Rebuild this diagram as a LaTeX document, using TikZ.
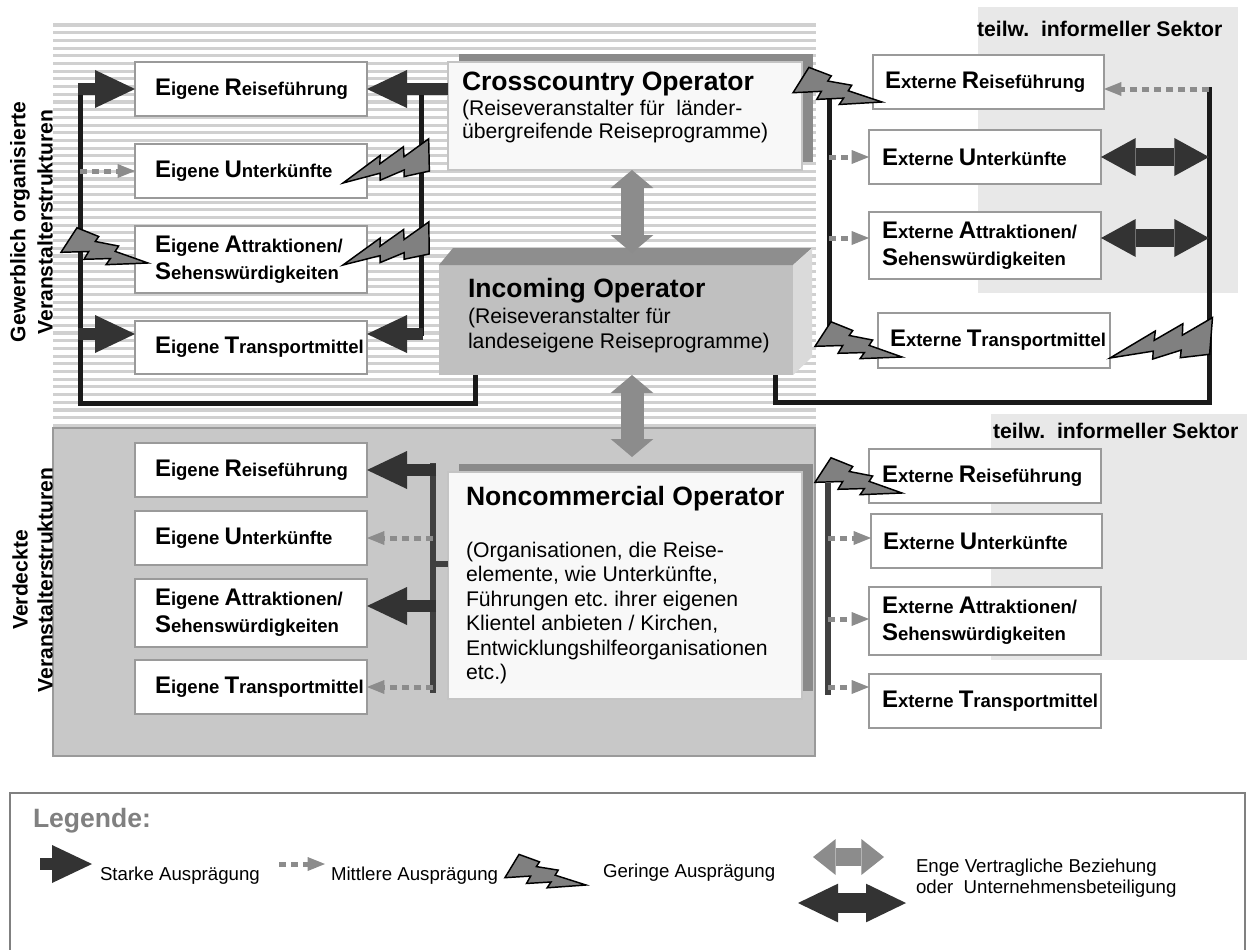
\documentclass[tikz,border=0pt]{standalone}
\usepackage{fontspec}
\setmainfont{Liberation Sans}
\usetikzlibrary{arrows.meta,calc,shadows}
\frenchspacing

\definecolor{darkarrow}{HTML}{333333}
\definecolor{midgray}{HTML}{8C8C8C}
\definecolor{boltgray}{HTML}{808080}
\definecolor{boxline}{HTML}{9A9A9A}
\definecolor{opline}{HTML}{C4C4C4}
\definecolor{stripegray}{HTML}{D0D0D0}
\definecolor{panelgray}{HTML}{C8C8C8}
\definecolor{informal}{HTML}{E8E8E8}
\definecolor{shadowgray}{HTML}{8A8A8A}
\definecolor{paper}{HTML}{F8F8F8}
\definecolor{incfront}{HTML}{C0C0C0}
\definecolor{inctop}{HTML}{8E8E8E}
\definecolor{incside}{HTML}{DADADA}
\definecolor{busblack}{HTML}{1A1A1A}
\definecolor{busgray}{HTML}{404040}
\definecolor{leggray}{HTML}{808080}

% fonts
\newcommand\capL[1]{{\fontsize{18}{21}\selectfont #1}}
\newcommand\itemfont{\fontsize{13.9}{21}\selectfont\bfseries}
\newcommand\titlefont{\fontsize{19.9}{23}\selectfont\bfseries}
\newcommand\subfont{\fontsize{15.9}{18}\selectfont}
\newcommand\sidefont{\fontsize{15.8}{19}\selectfont\bfseries}
\newcommand\sectorfont{\fontsize{15.9}{19}\selectfont\bfseries}
\newcommand\legfont{\fontsize{14}{16}\selectfont}
\newcommand\legtitlefont{\fontsize{19.9}{23}\selectfont\bfseries}

\tikzset{
  itembox/.style={draw=boxline, line width=1.5pt, fill=white, anchor=north west},
  itemtext/.style={anchor=west, align=left, font=\itemfont},
  opbox/.style={draw=opline, line width=1.5pt, fill=paper, anchor=north west,
    general shadow={fill=shadowgray, shadow xshift=8.25pt, shadow yshift=6pt}},
  optitle/.style={anchor=base west, font=\titlefont},
  optext/.style={anchor=base west, font=\subfont},
  bus/.style={draw=busblack, line width=3.75pt},
  busg/.style={draw=busgray, line width=4.5pt},
  strong/.style={draw=darkarrow, line width=9pt,
    -{Triangle[length=30pt,width=28.5pt,line width=0pt]}},
  medium/.style={draw=midgray, line width=3.75pt, dash pattern=on 5pt off 4pt,
    -{Triangle[length=13pt,width=10.5pt,line width=0pt]}},
  contract/.style={draw=midgray, line width=17.25pt,
    {Triangle[length=13.5pt,width=32pt,line width=0pt]}-{Triangle[length=13.5pt,width=32pt,line width=0pt]}},
  contractsmall/.style={draw=midgray, line width=14pt,
    {Triangle[length=17pt,width=27pt,line width=0pt]}-{Triangle[length=17pt,width=27pt,line width=0pt]}},
  stake/.style={draw=darkarrow, line width=13.5pt,
    {Triangle[length=26pt,width=28.5pt,line width=0pt]}-{Triangle[length=26pt,width=28.5pt,line width=0pt]}},
  stakelegend/.style={draw=darkarrow, line width=15pt,
    {Triangle[length=30pt,width=29pt,line width=0pt]}-{Triangle[length=30pt,width=29pt,line width=0pt]}},
  boltshape/.style={draw=black, fill=boltgray, line width=1.1pt, line join=miter},
  sidelabel/.style={rotate=90, font=\sidefont},
  sector/.style={anchor=base west, font=\sectorfont},
  legtext/.style={anchor=base west, font=\legfont},
}

% item box: name, x, y, width, height, text indent, text
\newcommand\itemnode[7]{%
  \pgfmathsetmacro\itemw{#4*0.75}\pgfmathsetmacro\itemh{#5*0.75}%
  \node[itembox, minimum width=\itemw pt, minimum height=\itemh pt] (#1) at (#2,#3) {};
  \node[itemtext] (#1-t) at ($(#1.west)+(#6,0)$) {#7};
}

% lightning bolt from a tip coordinate to the middle of its broad end
\newcommand\drawbolt[2]{%
  \path (#1); \pgfgetlastxy{\boltax}{\boltay}%
  \path (#2); \pgfgetlastxy{\boltbx}{\boltby}%
  \pgfmathsetmacro\boltang{atan2((\boltby)-(\boltay),(\boltbx)-(\boltax))}%
  \pgfmathsetmacro\boltlen{veclen((\boltbx)-(\boltax),(\boltby)-(\boltay))}%
  \filldraw[boltshape, shift={(\boltax,\boltay)}, rotate=\boltang,
     x={(\boltlen pt,0pt)}, y={(0pt,-\boltlen pt)}]
    (0,0) -- (0.484,-0.162) -- (0.454,-0.076) -- (0.759,-0.174) -- (0.731,-0.067)
    -- (1.052,-0.171) -- (0.949,0.170) -- (0.665,0.142) -- (0.689,0.072)
    -- (0.401,0.098) -- (0.423,0.024) -- cycle;
}

\begin{document}
\begin{tikzpicture}[x=0.75pt, y=-0.75pt, line join=miter,
  every node/.style={inner sep=0pt, outer sep=0pt}]

\useasboundingbox (0,0) rectangle (1248,949);
\fill[white] (0,0) rectangle (1248,949);

% informal sector panels
\fill[informal] (978,7) rectangle (1238,293);
\fill[informal] (991,414) rectangle (1247,660);

% striped band: commercially organised structures
\foreach \k in {0,...,52}
  \draw[stripegray, line width=2.3pt] (53,{25+7.7*\k}) -- (816,{25+7.7*\k});

% grey panel: hidden structures
\filldraw[fill=panelgray, draw=boxline, line width=1.5pt] (53,428) rectangle (815,756);

% legend frame
\draw[draw=leggray, line width=1.5pt] (10,955) -- (10,793) -- (1245,793) -- (1245,955);

% side labels
\node[sidelabel] (side1a) at (20,222) {Gewerblich organisierte};
\node[sidelabel] (side1b) at (45,222) {Veranstalterstrukturen};
\node[sidelabel] (side2a) at (20,580) {Verdeckte};
\node[sidelabel] (side2b) at (45,580) {Veranstalterstrukturen};

% sector captions
\node[sector] (sec1) at (977,37) {teilw.\ \ informeller Sektor};
\node[sector] (sec2) at (993,438) {teilw.\ \ informeller Sektor};

% operators
\node[opbox, minimum width=265.5pt, minimum height=81pt] (cc) at (448,62) {};
\node[anchor=north west, fill=incfront, minimum width=265.5pt, minimum height=82.5pt] (inc) at (439,265) {};
\fill[inctop] (inc.north west) -- ++(14,-17) -- ($(inc.north east)+(19,-17)$) -- (inc.north east) -- cycle;
\fill[incside] (inc.north east) -- ++(19,-17) -- ($(inc.south east)+(19,-18)$) -- (inc.south east) -- cycle;
\node[opbox, minimum width=265.5pt, minimum height=170.25pt] (nc) at (448,472) {};

\node[optitle] (cc-title) at (462,90) {Crosscountry Operator};
\node[optext] (cc-l1) at (462,115) {(Reiseveranstalter für\ \ länder-};
\node[optext] (cc-l2) at (462,138) {übergreifende Reiseprogramme)};
\node[optitle] (inc-title) at (468,297) {Incoming Operator};
\node[optext] (inc-l1) at (468,323) {(Reiseveranstalter für};
\node[optext] (inc-l2) at (468,348) {landeseigene Reiseprogramme)};
\node[optitle] (nc-title) at (466,505) {Noncommercial Operator};
\node[optext] (nc-l1) at (466,557) {(Organisationen, die Reise-};
\node[optext] (nc-l2) at (466,581.5) {elemente, wie Unterkünfte,};
\node[optext] (nc-l3) at (466,606) {Führungen etc. ihrer eigenen};
\node[optext] (nc-l4) at (466,630.5) {Klientel anbieten / Kirchen,};
\node[optext] (nc-l5) at (466,655) {Entwicklungshilfeorganisationen};
\node[optext] (nc-l6) at (466,679.5) {etc.)};

% bus lines
\coordinate (incL) at ($(inc.south west)+(36,0)$);
\coordinate (incR) at ($(inc.south west)+(336,0)$);
\draw[bus] (incL) -- ++(0,28) -| (80,87);
\draw[bus] (421,89) -- (421,336);
\draw[bus] (829,98) -- (829,332);
\draw[bus] (incR) -- ++(0,27) -| (1209,87);
\draw[busg] (433,463) -- (433,693);
\draw[busg] (433,564) -- ($(nc.north west)+(0,92)$);
\draw[busg] (828,483) -- (828,695);

% own elements, commercial
\itemnode{er1}{135}{62}{232}{54}{20}{\capL{E}igene \capL{R}eiseführung}
\itemnode{eu1}{135}{144}{232}{54}{20}{\capL{E}igene \capL{U}nterkünfte}
\itemnode{ea1}{135}{226}{232}{67}{20}{\capL{E}igene \capL{A}ttraktionen/\\[-1pt]\capL{S}ehenswürdigkeiten}
\itemnode{et1}{135}{321}{232}{53}{20}{\capL{E}igene \capL{T}ransportmittel}
% external elements, commercial
\itemnode{xr1}{873}{55}{231}{54}{12}{\capL{E}xterne \capL{R}eiseführung}
\itemnode{xu1}{869}{130}{232}{54}{13}{\capL{E}xterne \capL{U}nterkünfte}
\itemnode{xa1}{869}{212}{232}{67}{13}{\capL{E}xterne \capL{A}ttraktionen/\\[-1pt]\capL{S}ehenswürdigkeiten}
\itemnode{xt1}{878}{313}{232}{55}{12}{\capL{E}xterne \capL{T}ransportmittel}
% own elements, hidden
\itemnode{er2}{135}{443}{232}{54}{20}{\capL{E}igene \capL{R}eiseführung}
\itemnode{eu2}{135}{511}{232}{54}{20}{\capL{E}igene \capL{U}nterkünfte}
\itemnode{ea2}{135}{579}{232}{68}{20}{\capL{E}igene \capL{A}ttraktionen/\\[-1pt]\capL{S}ehenswürdigkeiten}
\itemnode{et2}{135}{660}{232}{54}{20}{\capL{E}igene \capL{T}ransportmittel}
% external elements, hidden
\itemnode{xr2}{869}{449}{232}{54}{13}{\capL{E}xterne \capL{R}eiseführung}
\itemnode{xu2}{871}{514}{231}{54}{12}{\capL{E}xterne \capL{U}nterkünfte}
\itemnode{xa2}{869}{587}{232}{68}{13}{\capL{E}xterne \capL{A}ttraktionen/\\[-1pt]\capL{S}ehenswürdigkeiten}
\itemnode{xt2}{869}{674}{232}{54}{13}{\capL{E}xterne \capL{T}ransportmittel}

% strong relations
\draw[strong] (78,89) -- (er1.west);
\draw[strong] (78,334) -- ($(et1.west)+(0,-13.5)$);
\draw[strong] (cc.west |- er1.east) -- (er1.east);
\draw[strong] (423,334) -- ($(et1.east)+(0,-13.5)$);
\draw[strong] (436,470) -- (er2.east);
\draw[strong] (436,606) -- ($(ea2.east)+(0,-7)$);

% medium relations
\draw[medium] (80,171) -- (eu1.west);
\draw[medium] (829,157) -- (xu1.west);
\draw[medium] (829,238) -- ($(xa1.west)+(0,-7.5)$);
\draw[medium] (1209,89) -- ($(xr1.east)+(0,7)$);
\draw[medium] (433,538) -- (eu2.east);
\draw[medium] (433,687) -- (et2.east);
\draw[medium] (828,538) -- ($(xu2.west)+(0,-3)$);
\draw[medium] (828,619) -- ($(xa2.west)+(0,-2)$);
\draw[medium] (828,687) -- ($(xt2.west)+(0,-14)$);

% contracts / shareholdings
\coordinate (axisC) at (632,0);
\draw[contract] (axisC |- cc.south) -- (632,253);
\draw[contract] (axisC |- inc.south) -- (632,457);
\draw[stake] (xu1.east) -- (1209,157);
\draw[stake] ($(xa1.east)+(0,-7.5)$) -- (1209,238);

% weak relations
\coordinate (b1tip) at (343,183);  \coordinate (b1base) at (429,155);
\coordinate (b2tip) at (343,265);  \coordinate (b2base) at (429,238);
\coordinate (b3tip) at (148,263);  \coordinate (b3base) at (69,240);
\coordinate (b4tip) at (882,102);  \coordinate (b4base) at (801,80);
\coordinate (b5tip) at (902,357);  \coordinate (b5base) at (823,334);
\coordinate (b6tip) at (1110,358); \coordinate (b6base) at (1211,336);
\coordinate (b7tip) at (902,493);  \coordinate (b7base) at (823,470);
\drawbolt{b1tip}{b1base}
\drawbolt{b2tip}{b2base}
\drawbolt{b3tip}{b3base}
\drawbolt{b4tip}{b4base}
\drawbolt{b5tip}{b5base}
\drawbolt{b6tip}{b6base}
\drawbolt{b7tip}{b7base}

% legend
\node[anchor=base west, font=\legtitlefont, text=leggray] (leg-title) at (33,827) {Legende:};
\coordinate (ls1) at (40,864); \coordinate (ls2) at (92,864);
\draw[strong] (ls1) -- (ls2);
\node[legtext] (leg-s) at (100,880) {Starke Ausprägung};
\coordinate (lm1) at (279,864); \coordinate (lm2) at (325,864);
\draw[medium] (lm1) -- (lm2);
\node[legtext] (leg-m) at (331,880) {Mittlere Ausprägung};
\coordinate (b8tip) at (586,885); \coordinate (b8base) at (512,866);
\drawbolt{b8tip}{b8base}
\node[legtext] (leg-g) at (603,877) {Geringe Ausprägung};
\coordinate (lc1) at (813,857); \coordinate (lc2) at (884,857);
\draw[contractsmall] (lc1) -- (lc2);
\coordinate (lk1) at (798,903); \coordinate (lk2) at (906,903);
\draw[stakelegend] (lk1) -- (lk2);
\node[legtext] (leg-e1) at (916,872) {Enge Vertragliche Beziehung};
\node[legtext] (leg-e2) at (916,893) {oder\ \ Unternehmensbeteiligung};

\end{tikzpicture}
\end{document}
